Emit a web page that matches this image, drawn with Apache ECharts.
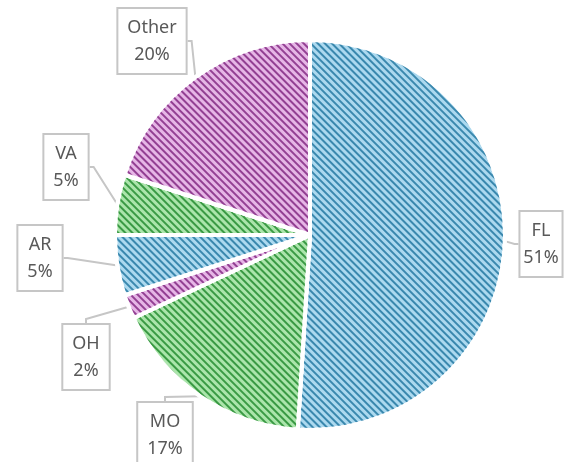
<!DOCTYPE html>
<html>
<head>
<meta charset="utf-8">
<script src="https://cdn.jsdelivr.net/npm/echarts@6/dist/echarts.min.js"></script>
<style>
  html, body { margin: 0; padding: 0; background: #fff; }
  #chart { width: 573px; height: 462px; }
</style>
</head>
<body>
<div id="chart"></div>
<script>
  // data, clockwise from 12 o'clock
  var states = ['FL', 'MO', 'OH', 'AR', 'VA', 'Other'];
  var shares = [51, 17, 2, 5, 5, 20];

  // fill + stripe colours per slice
  var fills   = ['#acd9ef', '#abe5ab', '#e6b6e6', '#acd9ef', '#abe5ab', '#e6b6e6'];
  var stripes = ['#3a88ae', '#3a9a44', '#934093', '#3a88ae', '#3a9a44', '#934093'];

  // where each callout box sits (box centre)
  var labelPos = [[541, 244], [165, 435], [86, 357], [40, 258], [66, 167], [152, 41]];

  var chart = echarts.init(document.getElementById('chart'));

  var data = [];
  for (var i = 0; i < states.length; i++) {
    data.push({
      name: states[i],
      value: shares[i],
      itemStyle: {
        color: fills[i],
        decal: {
          symbol: 'rect',
          symbolSize: 1,
          color: stripes[i],
          dashArrayX: [1, 0],
          dashArrayY: [1.8, 3],
          rotation: Math.PI / 4
        }
      }
    });
  }

  chart.setOption({
    animation: false,
    series: [{
      type: 'pie',
      center: [310, 235],
      radius: 195,
      startAngle: 90,
      clockwise: true,
      itemStyle: { borderColor: '#fff', borderWidth: 4 },
      label: {
        show: true,
        formatter: '{b}\n{c}%',
        fontFamily: 'Noto Sans',
        fontSize: 18,
        lineHeight: 27,
        color: '#595959',
        align: 'center',
        overflow: 'none',
        backgroundColor: '#fff',
        borderColor: '#c6c6c6',
        borderWidth: 2,
        padding: [5, 9]
      },
      labelLine: {
        show: true,
        length: 8,
        length2: 4,
        lineStyle: { color: '#c6c6c6', width: 2 }
      },
      labelLayout: function (p) {
        var pos = labelPos[p.dataIndex];
        return { x: pos[0], y: pos[1], align: 'center', verticalAlign: 'middle' };
      },
      data: data
    }]
  });
</script>
</body>
</html>
